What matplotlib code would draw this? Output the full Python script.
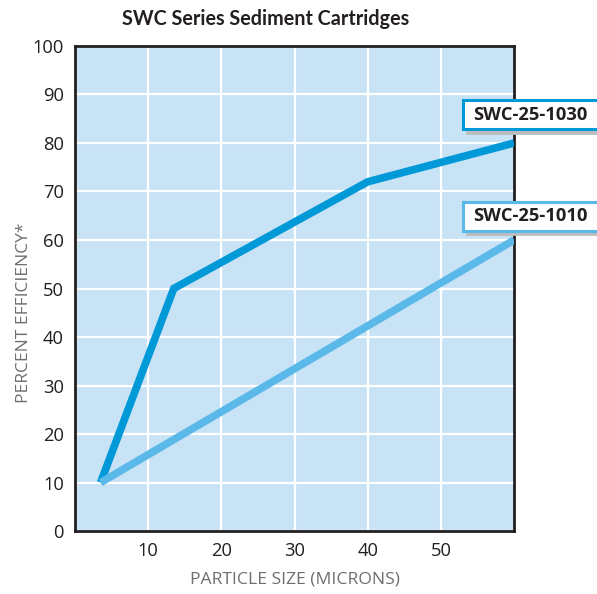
import matplotlib
matplotlib.use('Agg')
import matplotlib.pyplot as plt
from matplotlib import transforms
from matplotlib.patches import Rectangle
from matplotlib.font_manager import FontProperties

# data
size_1030 = [3.5, 13.5, 40, 60]
eff_1030 = [10, 50, 72, 80]
size_1010 = [3.5, 60]
eff_1010 = [10, 60]

x_ticks = [10, 20, 30, 40, 50]
y_ticks = [0, 10, 20, 30, 40, 50, 60, 70, 80, 90, 100]

series_names = ['SWC-25-1030', 'SWC-25-1010']
label_y = [85.8, 64.9]

dark_blue = '#0099d8'
light_blue = '#5ab9e8'

plt.rcParams['font.family'] = ['Open Sans', 'DejaVu Sans']

fig = plt.figure(figsize=(5.97, 5.94), dpi=100)
ax = fig.add_axes([0.1256, 0.106, 0.7355, 0.8166])
ax.set_facecolor('#c8e2f6')

ax.plot(size_1030, eff_1030, color=dark_blue, lw=5.5, solid_joinstyle='miter',
        solid_capstyle='butt', zorder=3)
ax.plot(size_1010, eff_1010, color=light_blue, lw=5.5, solid_capstyle='butt', zorder=4)

ax.set_xlim(0, 60)
ax.set_ylim(0, 100)
ax.set_xticks(x_ticks)
ax.set_yticks(y_ticks)
ax.grid(True, color='white', lw=1.6)
ax.set_axisbelow(True)
ax.tick_params(length=0, labelsize=13.2, labelcolor='#231f20', pad=8)
for s in ax.spines.values():
    s.set_color('#231f20')
    s.set_linewidth(2)

ax.set_xlabel('PARTICLE SIZE (MICRONS)', fontsize=12.6, color='#6d6e71', labelpad=8)
ax.set_ylabel('PERCENT EFFICIENCY*', fontsize=12.5, color='#6d6e71')
ax.yaxis.set_label_coords(-0.098, 0.45)

title_font = FontProperties(family='Lato', weight='bold', size=14.2)
ax.text(0.435, 1.036, 'SWC Series Sediment Cartridges', transform=ax.transAxes,
        ha='center', va='bottom', fontproperties=title_font, color='#231f20')

# series labels: white box, coloured border, soft shadow
blend = transforms.blended_transform_factory(ax.transAxes, ax.transData)
for name, ypos, col in zip(series_names, label_y, [dark_blue, light_blue]):
    h = 6.0
    shadow = transforms.offset_copy(blend, fig=fig, x=2.5, y=-2.5, units='points')
    ax.add_patch(Rectangle((0.884, ypos - h / 2), 0.33, h, transform=shadow,
                           fc='#bcbcbc', ec='#bcbcbc', lw=2, clip_on=False, zorder=5))
    ax.add_patch(Rectangle((0.884, ypos - h / 2), 0.33, h, transform=blend,
                           fc='white', ec=col, lw=2.2, clip_on=False, zorder=6))
    ax.text(1.0376, ypos, name, transform=blend, ha='center', va='center',
            fontsize=13.2, fontweight='bold', color='#231f20', clip_on=False, zorder=7)

fig.savefig('out.png', dpi=100)
